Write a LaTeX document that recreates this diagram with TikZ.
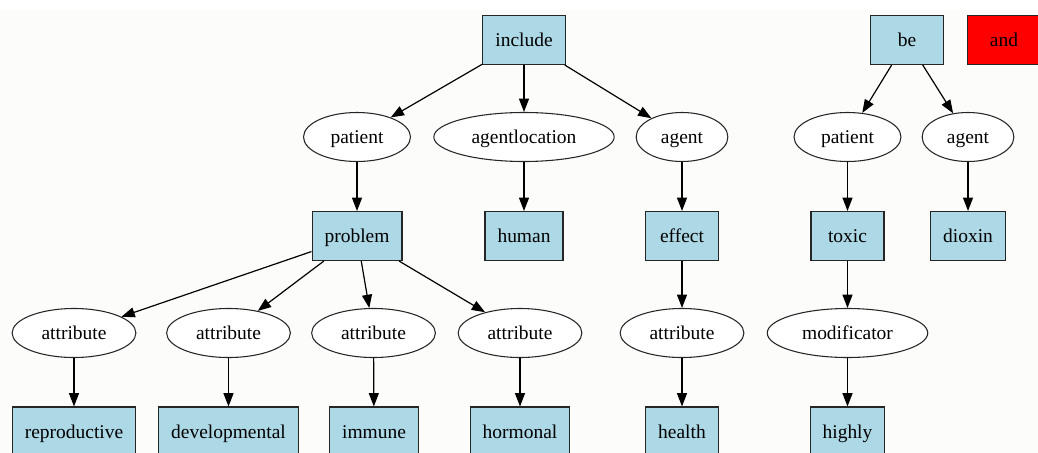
\documentclass[tikz,border=0pt]{standalone}
\usepackage{fontspec}
\setmainfont{Liberation Serif}
\usetikzlibrary{arrows.meta,shapes.geometric}
\definecolor{boxblue}{HTML}{ADD8E6}
\definecolor{paper}{RGB}{252,253,251}
\tikzset{
  box/.style={draw=black!85,fill=boxblue,rectangle,line width=0.8pt,
    minimum width=54.75pt,minimum height=36.75pt,inner xsep=9.4pt,
    text height=11pt,text depth=1pt,
    font=\fontsize{14.6}{16}\selectfont},
  oval/.style={draw=black!85,fill=white,ellipse,line width=0.8pt,
    minimum height=36.75pt,inner xsep=8.5pt,inner ysep=2pt,
    text height=11pt,text depth=1pt,
    font=\fontsize{14.6}{16}\selectfont},
  edge/.style={-{Triangle[length=10pt,width=7.5pt]},line width=0.9pt}
}
\begin{document}
\begin{tikzpicture}[x=0.75pt,y=-0.75pt]
% Frame
\useasboundingbox (0,0) rectangle (1038,453);
\fill[paper] (0,10) rectangle (1038,453);

% Roots
\node[box] (include) at (524,40) {include};
\node[box] (be) at (907,40) {be};
\node[box,fill=red] (and) at (1004,40) {and};

% Second row
\node[oval] (patA) at (357,137) {patient};
\node[oval] (agloc) at (524,137) {agentlocation};
\node[oval] (agA) at (682,137) {agent};
\node[oval] (patB) at (847.5,137) {patient};
\node[oval] (agB) at (968,137) {agent};

% Third row
\node[box] (problem) at (357,236) {problem};
\node[box] (human) at (524,236) {human};
\node[box] (effect) at (682,236) {effect};
\node[box] (toxic) at (847.5,236) {toxic};
\node[box] (dioxin) at (968,236) {dioxin};

% Fourth row
\node[oval] (attrA) at (74,333) {attribute};
\node[oval] (attrB) at (228.5,333) {attribute};
\node[oval] (attrC) at (373.5,333) {attribute};
\node[oval] (attrD) at (520,333) {attribute};
\node[oval] (attrE) at (682,333) {attribute};
\node[oval] (modif) at (847.5,333) {modificator};

% Leaves
\node[box] (repro) at (74,431.5) {reproductive};
\node[box] (devel) at (228.5,431.5) {developmental};
\node[box] (immune) at (374,431.5) {immune};
\node[box] (hormon) at (520,431.5) {hormonal};
\node[box] (health) at (682,431.5) {health};
\node[box] (highly) at (847.5,431.5) {highly};

% Edges
\foreach \a/\b in {include/patA,include/agloc,include/agA,
    patA/problem,agloc/human,agA/effect,
    problem/attrA,problem/attrB,problem/attrC,problem/attrD,
    attrA/repro,attrB/devel,attrC/immune,attrD/hormon,
    effect/attrE,attrE/health,
    be/patB,be/agB,patB/toxic,agB/dioxin,toxic/modif,modif/highly}
  \draw[edge] (\a) -- (\b);
\end{tikzpicture}
\end{document}
